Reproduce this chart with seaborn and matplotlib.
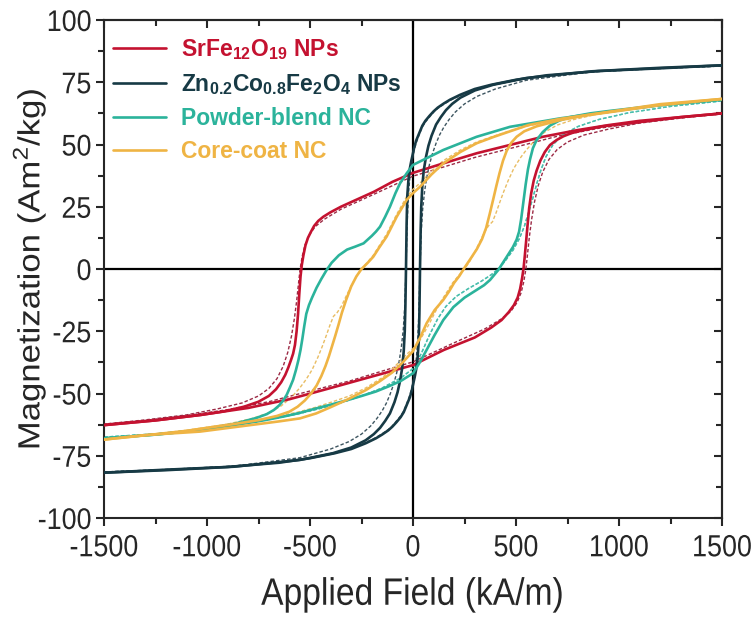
import matplotlib
matplotlib.use("Agg")
import matplotlib.pyplot as plt
from matplotlib.ticker import MultipleLocator
from matplotlib.lines import Line2D
from matplotlib.patheffects import AbstractPathEffect
from matplotlib.transforms import Affine2D
from matplotlib.path import Path
import seaborn as sns
import pandas as pd

# ---------------- hysteresis data (H in kA/m, M in Am^2/kg) ----------------
# "dec" = field sweep from +1500 down to -1500, "inc" = sweep back up.
# Solid curves = first data set, "2" suffix = dashed data set.

# SrFe12O19 NPs
sr_dec_H = [1500, 1300, 1100, 950, 800, 630, 470, 310, 150, 0, -100, -190, -270, -350, -400, -435, -460, -480,
            -495, -510, -522, -532, -540, -546, -552, -558, -565, -573, -582, -592, -605, -620, -640, -665,
            -700, -750, -820, -920, -1030, -1250, -1500]
sr_dec_M = [62.5, 61.0, 59.5, 57.8, 55.8, 53.1, 49.8, 46.5, 42.5, 38.6, 35.0, 31.0, 28.0, 25.0, 22.8, 21.0, 19.3,
            17.3, 15.0, 12.5, 9.5, 5.5, 1.5, -3.0, -10.0, -18.0, -25.0, -30.5, -34.0, -36.5, -39.5, -42.5,
            -45.5, -48.3, -51.0, -53.3, -55.3, -57.2, -58.6, -60.8, -62.7]
sr_inc_H = [-1500, -1250, -1030, -800, -600, -400, -200, 0, 150, 300, 380, 430, 465, 490, 508, 520, 530, 537,
            543, 549, 556, 564, 574, 586, 600, 618, 640, 665, 697, 730, 770, 830, 920, 1100, 1300, 1500]
sr_inc_M = [-62.7, -60.8, -58.6, -55.8, -52.3, -47.8, -43.2, -38.6, -32.5, -27.5, -23.5, -20.5, -17.3, -14.5,
            -11.5, -8.0, -3.5, 0.5, 5.5, 11.0, 17.5, 24.5, 30.5, 35.5, 39.5, 43.5, 47.0, 49.8, 51.8, 53.3,
            54.6, 55.8, 57.3, 59.0, 61.0, 62.5]
sr2_dec_H = [1500, 1300, 1100, 900, 700, 500, 300, 150, 0, -190, -350, -430, -475, -505, -525, -538, -548,
             -556, -565, -576, -590, -608, -630, -660, -700, -750, -830, -950, -1100, -1300, -1500]
sr2_dec_M = [62.3, 60.8, 58.8, 56.5, 53.3, 49.0, 44.8, 41.0, 37.3, 30.0, 24.0, 20.0, 17.0, 13.5, 9.5, 5.0, 0.0,
             -6.0, -13.0, -20.0, -27.0, -33.5, -39.0, -44.0, -48.0, -51.0, -53.8, -56.2, -58.6, -60.6, -62.3]
sr2_inc_H = [-1500, -1300, -1100, -900, -700, -500, -300, -150, 0, 190, 350, 430, 475, 505, 525, 538, 548,
             556, 565, 576, 590, 608, 630, 660, 700, 750, 830, 950, 1100, 1300, 1500]
sr2_inc_M = [-62.3, -60.8, -58.8, -56.5, -53.3, -49.0, -44.8, -41.0, -37.3, -30.0, -24.0, -20.0, -17.0, -13.5,
             -9.5, -5.0, 0.0, 6.0, 13.0, 20.0, 27.0, 33.5, 39.0, 44.0, 48.0, 51.0, 53.8, 56.2, 58.6, 60.6, 62.3]

# Zn0.2Co0.8Fe2O4 NPs
co_dec_H = [1500, 1200, 900, 650, 500, 380, 300, 230, 180, 150, 120, 100, 80, 60, 45, 30, 15, 5, 0, -8, -15,
            -22, -28, -31, -34, -37, -40, -45, -52, -63, -75, -90, -112, -135, -160, -190, -230, -300, -390,
            -550, -870, -1200, -1500]
co_dec_M = [81.8, 80.6, 79.5, 77.8, 76.0, 74.0, 72.3, 70.0, 68.0, 66.5, 64.8, 63.3, 61.5, 59.5, 57.5, 54.5, 51.5,
            48.5, 46.5, 43.5, 40.5, 36.0, 29.0, 18.0, 0.0, -15.0, -25.0, -33.0, -39.5, -45.0, -49.5, -53.5,
            -58.0, -61.0, -63.8, -66.3, -68.8, -71.7, -74.0, -76.7, -79.4, -80.8, -81.8]
co_inc_H = [-1500, -1200, -900, -650, -500, -380, -300, -230, -180, -150, -120, -100, -80, -60, -45, -30, -15,
            -5, 0, 8, 15, 22, 28, 31, 34, 37, 40, 45, 52, 63, 75, 90, 112, 135, 160, 190, 230, 300, 390, 550,
            870, 1200, 1500]
co_inc_M = [-81.8, -80.6, -79.5, -77.8, -76.0, -74.0, -72.3, -70.0, -68.0, -66.5, -64.8, -63.3, -61.5, -59.5,
            -57.5, -54.5, -51.5, -48.5, -46.5, -43.5, -40.5, -36.0, -29.0, -18.0, 0.0, 15.0, 25.0, 33.0, 39.5,
            45.0, 49.5, 53.5, 58.0, 61.0, 63.8, 66.3, 68.8, 71.7, 74.0, 76.7, 79.4, 80.8, 81.8]
co2_dec_H = [1500, 1200, 900, 650, 500, 380, 300, 230, 180, 150, 120, 100, 80, 60, 45, 30, 15, 5, 0, -8, -15,
             -22, -28, -34, -40, -47, -56, -67, -80, -95, -112, -130, -150, -175, -205, -250, -310, -400, -550,
             -870, -1200, -1500]
co2_dec_M = [81.5, 80.5, 79.3, 77.6, 75.8, 73.8, 72.0, 69.7, 67.7, 66.2, 64.5, 63.0, 61.0, 59.0, 57.0, 54.0,
             50.5, 47.5, 45.5, 41.5, 37.0, 30.0, 19.0, 0.0, -15.0, -24.0, -31.0, -37.0, -42.0, -46.5, -50.5,
             -54.0, -57.0, -60.0, -63.0, -66.3, -69.3, -72.3, -75.8, -79.2, -80.7, -81.5]
co2_inc_H = [-1500, -1200, -900, -650, -500, -380, -300, -230, -180, -150, -120, -100, -80, -60, -45, -30, -15,
             -5, 0, 8, 15, 22, 28, 34, 40, 47, 56, 67, 80, 95, 112, 130, 150, 175, 205, 250, 310, 400, 550, 870,
             1200, 1500]
co2_inc_M = [-81.5, -80.5, -79.3, -77.6, -75.8, -73.8, -72.0, -69.7, -67.7, -66.2, -64.5, -63.0, -61.0, -59.0,
             -57.0, -54.0, -50.5, -47.5, -45.5, -41.5, -37.0, -30.0, -19.0, 0.0, 15.0, 24.0, 31.0, 37.0, 42.0,
             46.5, 50.5, 54.0, 57.0, 60.0, 63.0, 66.3, 69.3, 72.3, 75.8, 79.2, 80.7, 81.5]

# Powder-blend NC
pb_dec_H = [1500, 1200, 956, 714, 471, 309, 147, 0, -30, -63, -85, -112, -135, -160, -180, -200, -240, -280,
            -320, -360, -395, -420, -445, -468, -490, -505, -518, -528, -537, -546, -556, -568, -582, -597,
            -613, -630, -650, -675, -710, -760, -872, -1034, -1250, -1500]
pb_dec_M = [68.0, 65.8, 63.2, 60.5, 57.1, 53.1, 47.8, 41.8, 38.5, 34.4, 30.5, 25.0, 21.0, 17.0, 15.0, 13.3,
            10.3, 9.0, 7.8, 5.5, 2.5, -0.5, -4.0, -7.5, -11.5, -14.5, -18.0, -23.0, -28.0, -32.5, -36.5, -40.5,
            -44.5, -47.5, -50.5, -52.8, -54.8, -56.6, -58.3, -59.8, -62.3, -64.7, -66.5, -68.0]
pb_inc_H = [-1500, -1250, -1034, -872, -760, -700, -620, -550, -480, -400, -320, -250, -180, -120, -60, 0, 33,
            66, 105, 147, 196, 250, 309, 345, 374, 414, 455, 485, 503, 515, 525, 536, 547, 558, 568, 582, 600,
            630, 665, 710, 762, 860, 956, 1200, 1500]
pb_inc_M = [-68.0, -66.5, -64.7, -62.7, -61.3, -60.4, -59.1, -57.8, -56.2, -54.5, -52.7, -51.0, -49.2, -47.2,
            -45.0, -41.9, -37.5, -32.5, -26.5, -20.5, -15.3, -11.5, -8.4, -6.5, -4.4, -0.4, 4.9, 8.8, 11.8,
            15.0, 20.0, 27.0, 34.0, 40.0, 44.0, 48.5, 51.8, 55.0, 57.6, 59.6, 61.0, 62.5, 63.5, 65.8, 68.0]
pb2_dec_H = [1500, 1250, 1050, 900, 800, 730, 680, 645, 620, 600, 580, 560, 540, 515, 485, 450, 414, 380,
             330, 270, 210, 160, 120, 80, 40, 0, -60, -150, -250, -350, -450, -550, -650, -760, -872, -1034,
             -1250, -1500]
pb2_dec_M = [67.5, 65.3, 62.8, 60.0, 57.2, 54.0, 50.0, 45.0, 39.5, 34.0, 28.0, 22.5, 17.0, 12.0, 7.5, 3.5,
             0.0, -2.3, -5.0, -7.8, -11.0, -15.0, -20.0, -26.5, -34.0, -40.0, -43.8, -47.8, -51.0, -53.7,
             -56.0, -58.0, -59.7, -61.3, -62.7, -64.5, -66.2, -67.5]
pb2_inc_H = [-1500, -1250, -1034, -872, -760, -650, -550, -450, -350, -250, -150, -60, 0, 40, 80, 120, 160,
             210, 270, 330, 380, 414, 450, 485, 515, 540, 560, 580, 600, 620, 645, 680, 730, 800, 900, 1050,
             1250, 1500]
pb2_inc_M = [-67.5, -66.2, -64.5, -62.7, -61.3, -59.7, -58.0, -56.0, -53.7, -51.0, -47.8, -43.8, -40.0, -34.0,
             -26.5, -20.0, -15.0, -11.0, -7.8, -5.0, -2.3, 0.0, 3.5, 7.5, 12.0, 17.0, 22.5, 28.0, 34.0, 39.5,
             45.0, 50.0, 54.0, 57.2, 60.0, 62.8, 65.3, 67.5]

# Core-coat NC
cc_dec_H = [1500, 1200, 956, 714, 560, 471, 390, 309, 230, 147, 90, 34, 0, -31, -79, -128, -165, -193, -222,
            -250, -275, -300, -325, -345, -362, -378, -393, -408, -425, -445, -468, -495, -525, -560, -600,
            -660, -750, -872, -1100, -1300, -1500]
cc_dec_M = [68.3, 66.2, 63.2, 60.3, 57.8, 55.3, 53.0, 50.5, 47.0, 42.4, 38.0, 33.0, 30.5, 27.7, 21.0, 13.0, 8.5,
            4.9, 2.3, 0.0, -3.0, -7.0, -12.5, -17.5, -22.5, -27.0, -31.0, -35.0, -39.0, -43.0, -46.8, -50.0,
            -52.8, -55.3, -57.3, -59.0, -60.7, -62.3, -65.0, -66.8, -68.5]
cc_inc_H = [-1500, -1300, -1034, -800, -650, -549, -470, -400, -320, -228, -160, -100, -50, 0, 35, 66, 105,
            147, 175, 200, 225, 250, 280, 310, 335, 355, 372, 388, 405, 420, 437, 455, 478, 503, 540, 600, 714,
            850, 956, 1200, 1500]
cc_inc_M = [-68.5, -66.7, -65.3, -62.8, -61.2, -60.0, -58.0, -55.5, -52.5, -48.6, -45.0, -41.5, -37.5, -33.0,
            -27.5, -21.8, -16.5, -12.4, -9.0, -5.5, -2.8, 0.5, 4.2, 8.0, 12.0, 16.5, 22.0, 27.5, 33.5, 38.5,
            43.5, 47.5, 50.8, 53.1, 55.3, 57.3, 59.8, 61.8, 63.0, 65.8, 68.3]
cc2_dec_H = [1500, 1200, 956, 714, 560, 471, 390, 309, 230, 147, 90, 34, 0, -31, -79, -128, -165, -193, -222,
             -250, -275, -300, -325, -348, -368, -386, -403, -420, -440, -462, -490, -520, -550, -590, -640,
             -700, -780, -900, -1100, -1300, -1500]
cc2_dec_M = [68.0, 66.0, 63.0, 60.0, 57.5, 55.5, 53.3, 51.0, 47.8, 43.5, 39.3, 34.5, 32.0, 29.0, 22.0, 14.0,
             9.2, 5.5, 2.6, 0.0, -3.0, -6.8, -11.0, -15.0, -17.5, -19.0, -22.5, -26.5, -31.0, -35.5, -40.5,
             -44.5, -47.8, -51.5, -55.0, -57.8, -60.0, -62.3, -64.8, -66.6, -68.3]
cc2_inc_H = [-1500, -1200, -956, -714, -560, -471, -390, -309, -230, -147, -90, -34, 0, 31, 79, 128, 165, 193,
             222, 250, 275, 300, 325, 348, 368, 386, 403, 420, 440, 462, 490, 520, 550, 590, 640, 700, 780, 900,
             1100, 1300, 1500]
cc2_inc_M = [-68.0, -66.0, -63.0, -60.0, -57.5, -55.5, -53.3, -51.0, -47.8, -43.5, -39.3, -34.5, -32.0, -29.0,
             -22.0, -14.0, -9.2, -5.5, -2.6, 0.0, 3.0, 6.8, 11.0, 15.0, 17.5, 19.0, 22.5, 26.5, 31.0, 35.5,
             40.5, 44.5, 47.8, 51.5, 55.0, 57.8, 60.0, 62.3, 64.8, 66.6, 68.3]

labels = [r"SrFe$_{\mathbf{12}}$O$_{\mathbf{19}}$ NPs",
          r"Zn$_{\mathbf{0.2}}$Co$_{\mathbf{0.8}}$Fe$_{\mathbf{2}}$O$_{\mathbf{4}}$ NPs",
          "Powder-blend NC",
          "Core-coat NC"]
colors = ["#c41230", "#173a45", "#2bb39b", "#efb444"]
dash_colors = ["#9c2a45", "#3d5560", "#4cbfae", "#e9bd63"]

solid_sets = [
    [(sr_dec_H, sr_dec_M), (sr_inc_H, sr_inc_M)],
    [(co_dec_H, co_dec_M), (co_inc_H, co_inc_M)],
    [(pb_dec_H, pb_dec_M), (pb_inc_H, pb_inc_M)],
    [(cc_dec_H, cc_dec_M), (cc_inc_H, cc_inc_M)],
]
dashed_sets = [
    [(sr2_dec_H, sr2_dec_M), (sr2_inc_H, sr2_inc_M)],
    [(co2_dec_H, co2_dec_M), (co2_inc_H, co2_inc_M)],
    [(pb2_dec_H, pb2_dec_M), (pb2_inc_H, pb2_inc_M)],
    [(cc2_dec_H, cc2_dec_M), (cc2_inc_H, cc2_inc_M)],
]


class Squeeze(AbstractPathEffect):
    """Compress glyph outlines along the text baseline (sx) or across it (sy)."""

    def __init__(self, sx=1.0, sy=1.0, anchor="center"):
        super().__init__()
        self.sx, self.sy, self.anchor = sx, sy, anchor

    def draw_path(self, renderer, gc, tpath, affine, rgbFace=None):
        v = tpath.vertices
        if tpath.codes is not None:
            v = v[tpath.codes != Path.CLOSEPOLY]
        if len(v):
            xmin, xmax = v[:, 0].min(), v[:, 0].max()
            x0 = {"left": xmin, "right": xmax, "center": 0.5 * (xmin + xmax)}[self.anchor]
            y0 = 0.5 * (v[:, 1].min() + v[:, 1].max())
        else:
            x0 = y0 = 0.0
        pre = Affine2D().translate(-x0, -y0).scale(self.sx, self.sy).translate(x0, y0)
        renderer.draw_path(gc, tpath, pre + affine, rgbFace)


# ---------------- styling ----------------
sns.set_style("white")
plt.rcParams["font.family"] = ["Liberation Sans", "DejaVu Sans"]
plt.rcParams["mathtext.fontset"] = "custom"
plt.rcParams["mathtext.rm"] = "Liberation Sans"
plt.rcParams["mathtext.bf"] = "Liberation Sans:bold"
plt.rcParams["axes.unicode_minus"] = False
plt.rcParams["axes.linewidth"] = 1.5

SQ = 0.88

fig = plt.figure(figsize=(7.56, 6.26), dpi=100)
ax = fig.add_axes([104 / 756, 1 - 518 / 626, 618 / 756, 498 / 626])

ax.axhline(0, color="black", lw=1.6, zorder=1)
ax.axvline(0, color="black", lw=1.6, zorder=1)

for sets, col in zip(dashed_sets, dash_colors):
    for H, M in sets:
        df = pd.DataFrame({"H": H, "M": M})
        sns.lineplot(data=df, x="H", y="M", sort=False, estimator=None, color=col,
                     lw=1.0, linestyle=(0, (2.5, 1.5)), ax=ax, zorder=2)

for sets, col in zip(solid_sets, colors):
    for H, M in sets:
        df = pd.DataFrame({"H": H, "M": M})
        sns.lineplot(data=df, x="H", y="M", sort=False, estimator=None, color=col,
                     lw=1.9, ax=ax, zorder=3)

ax.set_xlim(-1500, 1500)
ax.set_ylim(-100, 100)
ax.xaxis.set_major_locator(MultipleLocator(500))
ax.xaxis.set_minor_locator(MultipleLocator(250))
ax.yaxis.set_major_locator(MultipleLocator(25))
ax.yaxis.set_minor_locator(MultipleLocator(12.5))
ax.tick_params(which="major", direction="out", length=6, width=1.5,
               bottom=True, left=True, top=False, right=False)
ax.tick_params(axis="x", which="major", pad=5, labelsize=22)
ax.tick_params(axis="y", which="major", pad=3, labelsize=21.5)
ax.tick_params(which="minor", direction="out", length=4, width=1.5,
               bottom=True, left=True, top=False, right=False)
for lab in ax.get_xticklabels():
    lab.set_path_effects([Squeeze(sx=SQ, anchor="center")])
for lab in ax.get_yticklabels():
    lab.set_path_effects([Squeeze(sx=0.9, anchor="right")])

# inward ticks on the top and right frame
top = ax.secondary_xaxis("top")
top.xaxis.set_major_locator(MultipleLocator(500))
top.xaxis.set_minor_locator(MultipleLocator(250))
top.tick_params(which="both", direction="in", labeltop=False, width=1.5)
top.tick_params(which="major", length=6)
top.tick_params(which="minor", length=4)
right = ax.secondary_yaxis("right")
right.yaxis.set_major_locator(MultipleLocator(25))
right.yaxis.set_minor_locator(MultipleLocator(12.5))
right.tick_params(which="both", direction="in", labelright=False, width=1.5)
right.tick_params(which="major", length=6)
right.tick_params(which="minor", length=4)

xl = ax.set_xlabel("Applied Field (kA/m)", fontsize=27.5, va="top")
xl.set_path_effects([Squeeze(sx=SQ, anchor="center")])
ax.xaxis.set_label_coords(0.5, -0.118)
yl = ax.set_ylabel(r"Magnetization (Am$^{2}$/kg)", fontsize=25)
yl.set_path_effects([Squeeze(sy=SQ, anchor="center")])
ax.yaxis.set_label_coords(-0.087, 0.5)

handles = [Line2D([0], [0], color=c, lw=1.9) for c in colors]
leg = ax.legend(handles, labels, loc="upper left", frameon=False,
                prop={"family": "Liberation Sans", "weight": "bold", "size": 16.5},
                labelcolor=colors, handlelength=2.3, handletextpad=0.65,
                labelspacing=0.44, borderaxespad=0.0, borderpad=0.4,
                bbox_to_anchor=(0.0, 0.985))

fig.savefig("out.png", dpi=100)
